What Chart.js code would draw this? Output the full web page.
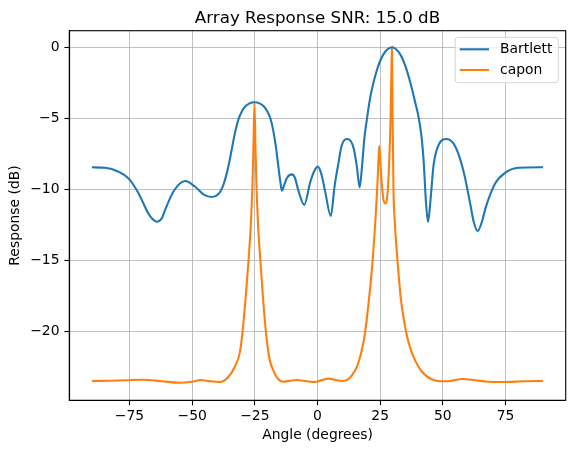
<!DOCTYPE html>
<html lang="en">
<head>
    <meta charset="UTF-8">
    <title>Array Response</title>
    <script src="https://cdn.jsdelivr.net/npm/chart.js"></script>
    <style>
        body {
            margin: 0;
            background: white;
        }
        #wrap {
            width: 574px;
            height: 453px;
        }
    </style>
</head>
<body>
    <div id="wrap"><canvas id="chart" width="574" height="453"></canvas></div>

    <script>
        // Bartlett curve (angle in degrees, response in dB)
        const bartlettAngles = [
            -90, -84.7, -79.4, -75, -71.4, -67.5, -66.1, -64.1, -62.1, -60.8, -57.5, -52.8,
            -48.8, -45.5, -42.2, -40.5, -38.8, -37.5, -36.4, -35.4, -34.3, -33.6, -32.6, -31.4,
            -30.1, -29.1, -27.1, -25.1, -23.1, -21.1, -20.1, -18.8, -17.6, -16.6, -15.6, -14.8,
            -14.2, -13.4, -12.2, -10.2, -9, -7.6, -5.3, -2.9, -1.5, 0.1, 1.5, 3.1,
            5.3, 6.8, 8.4, 9.7, 12, 14.4, 15.7, 16.8, 17.8, 18.7, 19.6, 20.5,
            21.4, 23.7, 26.3, 29.7, 33, 35.2, 37.2, 39, 40.4, 41.5, 42.3, 43.3,
            44.1, 45, 46.3, 48.3, 51.5, 55, 58.3, 61, 62.3, 63.9, 65.6, 67,
            70.9, 74.9, 80.2, 90
        ];
        const bartlettDb = [
            -8.45, -8.48, -8.76, -9.3, -10.28, -11.69, -12.04, -12.28, -12.04, -11.46, -10.17, -9.42,
            -9.82, -10.35, -10.54, -10.47, -10.17, -9.67, -9.02, -8.27, -7.27, -6.62, -5.77, -5.0,
            -4.49, -4.22, -3.95, -3.87, -3.95, -4.22, -4.49, -5.0, -5.9, -7.0, -8.4, -9.5,
            -10.1, -9.75, -9.2, -8.95, -9.2, -10.1, -11.1, -9.5, -8.8, -8.4, -8.9, -10.2,
            -11.88, -9.8, -8.1, -6.88, -6.46, -7.1, -8.4, -9.86, -8.3, -6.4, -5.2, -4.1,
            -3.2, -1.6, -0.5, 0, -0.5, -1.4, -2.6, -3.9, -5.0, -6.3, -7.9, -11.0,
            -12.3, -10.9, -8.29, -6.88, -6.46, -7.0, -8.76, -11.1, -12.28, -12.94, -12.28, -11.34,
            -9.58, -8.83, -8.48, -8.45
        ];

        // Capon curve
        const caponAngles = [
            -90, -82.9, -76, -69.8, -62, -55.2, -50, -46.5, -42.8, -38.8, -35.5, -33,
            -31, -30, -28.6, -27.5, -26.6, -26, -25.55, -25.15, -24.75, -24.3, -23.7, -22.8,
            -21.8, -20.6, -19.2, -17.5, -16, -13.6, -11, -8.2, -4.2, -0.9, 1.5, 4.4,
            7, 9.7, 12, 13.5, 15.7, 17.3, 18.8, 20.5, 22, 23, 23.8, 24.2,
            24.6, 25, 25.4, 26.2, 27.1, 27.9, 28.6, 29.15, 29.45, 29.7, 29.95, 30.3,
            30.9, 31.9, 33.3, 35.3, 36.5, 38.3, 41.7, 46.3, 50.3, 53, 57.9, 63,
            68, 74.7, 82, 90
        ];
        const caponDb = [
            -23.5, -23.48, -23.45, -23.41, -23.52, -23.62, -23.55, -23.43, -23.52, -23.57, -23.2, -22.5,
            -21.5, -20.2, -17.5, -15, -12.5, -10, -7, -3.95, -7, -10, -12.5, -15,
            -17.5, -20, -21.9, -22.8, -23.3, -23.55, -23.48, -23.43, -23.52, -23.57, -23.45, -23.33,
            -23.42, -23.5, -23.4, -23.15, -22.5, -21.6, -20.3, -17.8, -15, -12.5, -10, -8.5,
            -6.95, -7.8, -9.0, -10.6, -11.0, -10.4, -8.05, -5, -2, 0, -5, -10,
            -12.5, -15, -17.8, -20, -20.9, -21.8, -22.85, -23.43, -23.52, -23.5, -23.36, -23.45,
            -23.55, -23.57, -23.52, -23.5
        ];

        const xTicks = [-75, -50, -25, 0, 25, 50, 75];
        const yTicks = [-20, -15, -10, -5, 0];
        const seriesNames = ['Bartlett', 'capon'];
        const titleText = 'Array Response SNR: 15.0 dB';

        const toPoints = (xs, ys) => xs.map((x, i) => ({ x: x, y: ys[i] }));
        const fmt = v => (v < 0 ? '\u2212' + Math.abs(v) : String(v));

        Chart.defaults.font.family = 'DejaVu Sans';
        Chart.defaults.color = '#000';

        // box around the axes, title and legend, matplotlib style
        const frame = {
            id: 'frame',
            afterDraw(chart) {
                const { ctx, chartArea: a } = chart;
                ctx.save();
                ctx.strokeStyle = '#000';
                ctx.lineWidth = 1.1;
                ctx.strokeRect(a.left, a.top, a.right - a.left, a.bottom - a.top);

                ctx.fillStyle = '#000';
                ctx.font = '16.7px "DejaVu Sans"';
                ctx.textAlign = 'center';
                ctx.textBaseline = 'alphabetic';
                ctx.fillText(titleText, (a.left + a.right) / 2, 22.5);

                // legend
                const lx = a.right - 7.4, ly = a.top + 6.6, lw = 103, lh = 45.4;
                ctx.beginPath();
                ctx.roundRect(lx - lw, ly, lw, lh, 2.8);
                ctx.fillStyle = 'rgba(255,255,255,0.8)';
                ctx.fill();
                ctx.strokeStyle = 'rgba(204,204,204,0.8)';
                ctx.lineWidth = 1;
                ctx.stroke();
                ctx.font = '13.9px "DejaVu Sans"';
                ctx.textAlign = 'left';
                ctx.textBaseline = 'middle';
                chart.data.datasets.forEach((ds, i) => {
                    const y = ly + 12 + i * 20.7;
                    ctx.beginPath();
                    ctx.moveTo(lx - lw + 4.4, y);
                    ctx.lineTo(lx - lw + 33.7, y);
                    ctx.strokeStyle = ds.borderColor;
                    ctx.lineWidth = 2.1;
                    ctx.stroke();
                    ctx.fillStyle = '#000';
                    ctx.fillText(ds.label, lx - lw + 44.7, y);
                });
                ctx.restore();
            }
        };

        const gridOpts = {
            color: '#b0b0b0',
            lineWidth: 0.8,
            drawTicks: true,
            tickLength: 4.9,
            tickColor: '#000',
            tickWidth: 1.1
        };

        new Chart(document.getElementById('chart'), {
            type: 'line',
            data: {
                datasets: [
                    {
                        label: seriesNames[0],
                        data: toPoints(bartlettAngles, bartlettDb),
                        borderColor: '#1f77b4',
                        borderWidth: 2.1,
                        pointRadius: 0,
                        cubicInterpolationMode: 'monotone'
                    },
                    {
                        label: seriesNames[1],
                        data: toPoints(caponAngles, caponDb),
                        borderColor: '#ff7f0e',
                        borderWidth: 2.1,
                        pointRadius: 0,
                        cubicInterpolationMode: 'monotone'
                    }
                ]
            },
            options: {
                responsive: false,
                animation: false,
                devicePixelRatio: 1,
                layout: { padding: { top: 30.7, right: 8.3, left: 0, bottom: 0 } },
                plugins: {
                    legend: { display: false },
                    tooltip: { enabled: false }
                },
                scales: {
                    x: {
                        type: 'linear',
                        min: -99,
                        max: 99,
                        afterBuildTicks: s => { s.ticks = xTicks.map(v => ({ value: v })); },
                        afterFit: s => { s.height = 52.7; },
                        ticks: { callback: fmt, font: { size: 13.9 }, padding: 3, maxRotation: 0 },
                        grid: gridOpts,
                        border: { color: '#000', width: 1.1 },
                        title: {
                            display: true,
                            text: 'Angle (degrees)',
                            font: { size: 13.9 },
                            padding: { top: 0, bottom: 9.7 }
                        }
                    },
                    y: {
                        min: -24.86,
                        max: 1.17,
                        afterBuildTicks: s => { s.ticks = yTicks.map(v => ({ value: v })); },
                        afterFit: s => { s.width = 69.3; },
                        ticks: { callback: fmt, font: { size: 13.9 }, padding: 4.9 },
                        grid: gridOpts,
                        border: { color: '#000', width: 1.1 },
                        title: {
                            display: true,
                            text: 'Response (dB)',
                            font: { size: 13.9 },
                            padding: { top: 6.7, bottom: 0 }
                        }
                    }
                }
            },
            plugins: [frame]
        });
    </script>
</body>
</html>
